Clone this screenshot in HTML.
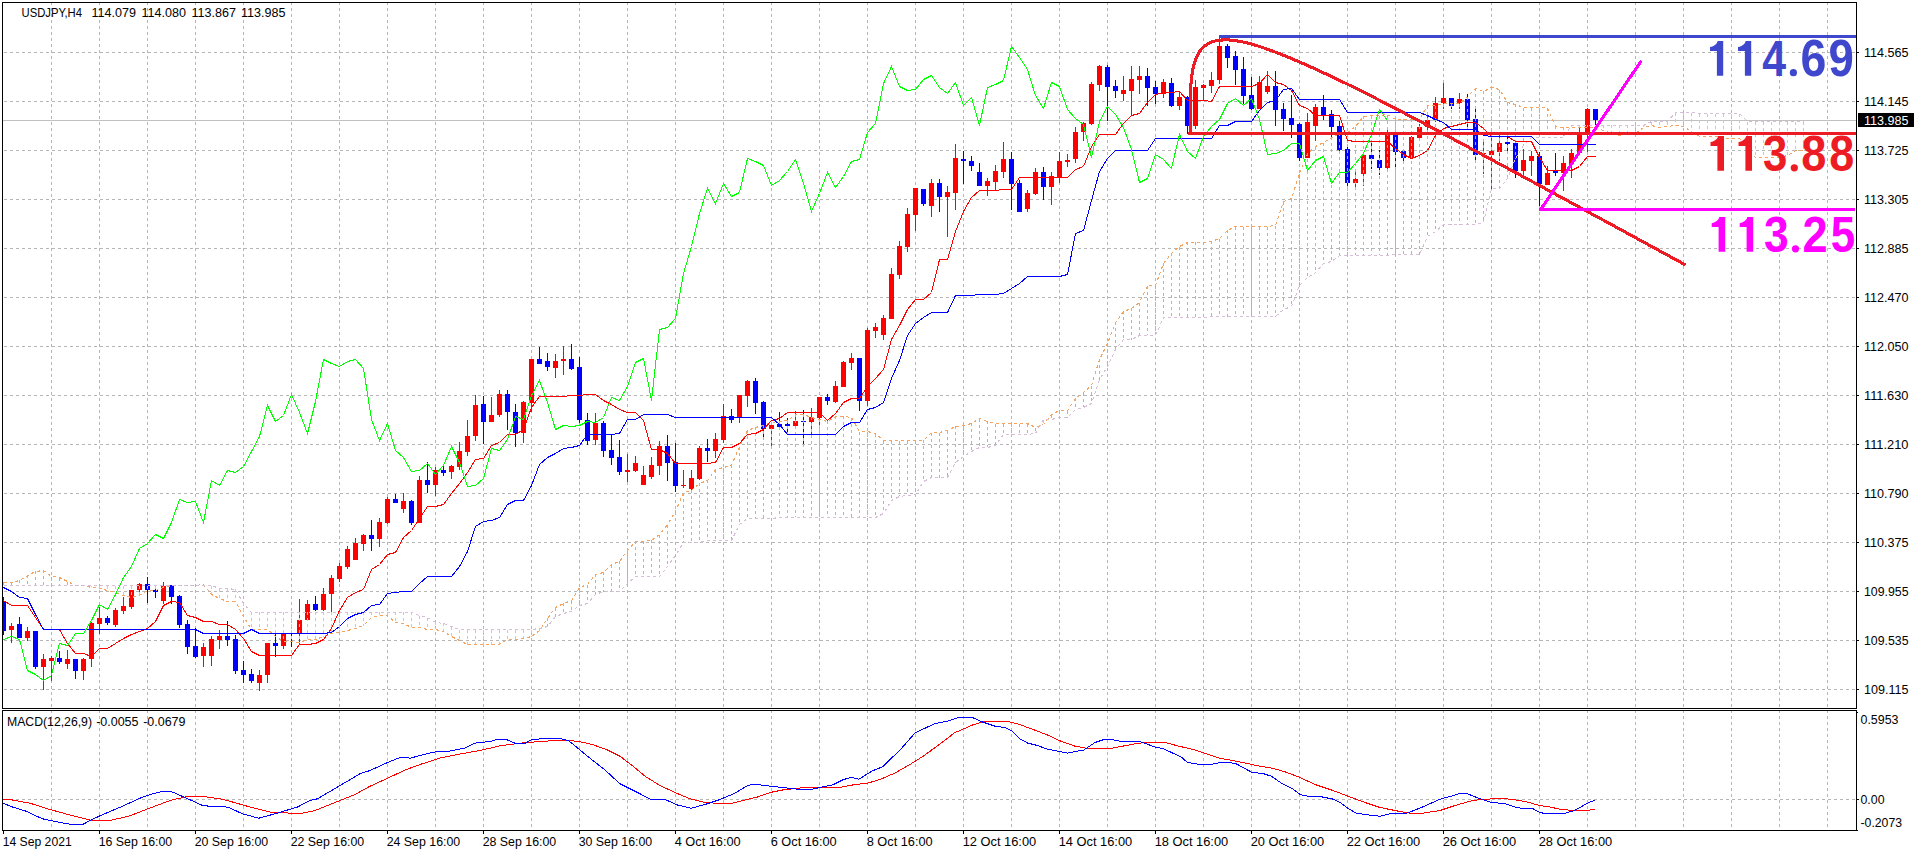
<!DOCTYPE html><html><head><meta charset="utf-8"><title>USDJPY,H4</title><style>html,body{margin:0;padding:0;background:#fff;overflow:hidden}body{width:1920px;height:854px;position:relative;font-family:"Liberation Sans",sans-serif}</style></head><body><svg width="1920" height="854" viewBox="0 0 1920 854" style="display:block;position:absolute;left:0;top:0" font-family="Liberation Sans, sans-serif">
<rect width="1920" height="854" fill="#fff"/>
<g stroke="#b6b6b6" stroke-width="1" stroke-dasharray="3 3" shape-rendering="crispEdges" fill="none">
<path d="M51.5 2V708"/>
<path d="M51.5 710V830"/>
<path d="M99.5 2V708"/>
<path d="M99.5 710V830"/>
<path d="M147.5 2V708"/>
<path d="M147.5 710V830"/>
<path d="M195.5 2V708"/>
<path d="M195.5 710V830"/>
<path d="M243.5 2V708"/>
<path d="M243.5 710V830"/>
<path d="M291.5 2V708"/>
<path d="M291.5 710V830"/>
<path d="M339.5 2V708"/>
<path d="M339.5 710V830"/>
<path d="M387.5 2V708"/>
<path d="M387.5 710V830"/>
<path d="M435.5 2V708"/>
<path d="M435.5 710V830"/>
<path d="M483.5 2V708"/>
<path d="M483.5 710V830"/>
<path d="M531.5 2V708"/>
<path d="M531.5 710V830"/>
<path d="M579.5 2V708"/>
<path d="M579.5 710V830"/>
<path d="M627.5 2V708"/>
<path d="M627.5 710V830"/>
<path d="M675.5 2V708"/>
<path d="M675.5 710V830"/>
<path d="M723.5 2V708"/>
<path d="M723.5 710V830"/>
<path d="M771.5 2V708"/>
<path d="M771.5 710V830"/>
<path d="M819.5 2V708"/>
<path d="M819.5 710V830"/>
<path d="M867.5 2V708"/>
<path d="M867.5 710V830"/>
<path d="M915.5 2V708"/>
<path d="M915.5 710V830"/>
<path d="M963.5 2V708"/>
<path d="M963.5 710V830"/>
<path d="M1011.5 2V708"/>
<path d="M1011.5 710V830"/>
<path d="M1059.5 2V708"/>
<path d="M1059.5 710V830"/>
<path d="M1107.5 2V708"/>
<path d="M1107.5 710V830"/>
<path d="M1155.5 2V708"/>
<path d="M1155.5 710V830"/>
<path d="M1203.5 2V708"/>
<path d="M1203.5 710V830"/>
<path d="M1251.5 2V708"/>
<path d="M1251.5 710V830"/>
<path d="M1299.5 2V708"/>
<path d="M1299.5 710V830"/>
<path d="M1347.5 2V708"/>
<path d="M1347.5 710V830"/>
<path d="M1395.5 2V708"/>
<path d="M1395.5 710V830"/>
<path d="M1443.5 2V708"/>
<path d="M1443.5 710V830"/>
<path d="M1491.5 2V708"/>
<path d="M1491.5 710V830"/>
<path d="M1539.5 2V708"/>
<path d="M1539.5 710V830"/>
<path d="M1587.5 2V708"/>
<path d="M1587.5 710V830"/>
<path d="M1635.5 2V708"/>
<path d="M1635.5 710V830"/>
<path d="M1683.5 2V708"/>
<path d="M1683.5 710V830"/>
<path d="M1731.5 2V708"/>
<path d="M1731.5 710V830"/>
<path d="M1779.5 2V708"/>
<path d="M1779.5 710V830"/>
<path d="M1827.5 2V708"/>
<path d="M1827.5 710V830"/>
<path d="M4 52.5H1856"/>
<path d="M4 101.5H1856"/>
<path d="M4 150.5H1856"/>
<path d="M4 199.5H1856"/>
<path d="M4 248.5H1856"/>
<path d="M4 297.5H1856"/>
<path d="M4 346.5H1856"/>
<path d="M4 395.5H1856"/>
<path d="M4 444.5H1856"/>
<path d="M4 493.5H1856"/>
<path d="M4 542.5H1856"/>
<path d="M4 591.5H1856"/>
<path d="M4 640.5H1856"/>
<path d="M4 689.5H1856"/>
<path d="M4 799.5H1856"/>
</g>
<path d="M3 120.5H1856" stroke="#c0c0c0" shape-rendering="crispEdges"/>
<defs><clipPath id="cm"><rect x="3" y="3" width="1853" height="705"/></clipPath><clipPath id="cs"><rect x="3" y="711" width="1853" height="119"/></clipPath></defs>
<g clip-path="url(#cm)">
<g shape-rendering="crispEdges">
<rect x="3" y="597" width="1" height="38" fill="#0000ff"/>
<rect x="1" y="601" width="5" height="30" fill="#0000ff"/>
<rect x="11" y="623" width="1" height="20" fill="#ff0000"/>
<rect x="9" y="626" width="5" height="4" fill="#ff0000"/>
<rect x="19" y="617" width="1" height="21" fill="#0000ff"/>
<rect x="17" y="624" width="5" height="14" fill="#0000ff"/>
<rect x="27" y="627" width="1" height="14" fill="#ff0000"/>
<rect x="25" y="631" width="5" height="7" fill="#ff0000"/>
<rect x="35" y="631" width="1" height="38" fill="#0000ff"/>
<rect x="33" y="631" width="5" height="36" fill="#0000ff"/>
<rect x="43" y="654" width="1" height="36" fill="#ff0000"/>
<rect x="41" y="659" width="5" height="8" fill="#ff0000"/>
<rect x="51" y="656" width="1" height="25" fill="#ff0000"/>
<rect x="49" y="658" width="5" height="3" fill="#ff0000"/>
<rect x="59" y="651" width="1" height="13" fill="#0000ff"/>
<rect x="57" y="658" width="5" height="4" fill="#0000ff"/>
<rect x="67" y="650" width="1" height="19" fill="#ff0000"/>
<rect x="65" y="659" width="5" height="5" fill="#ff0000"/>
<rect x="75" y="659" width="1" height="20" fill="#0000ff"/>
<rect x="73" y="659" width="5" height="12" fill="#0000ff"/>
<rect x="83" y="658" width="1" height="22" fill="#ff0000"/>
<rect x="81" y="659" width="5" height="12" fill="#ff0000"/>
<rect x="91" y="622" width="1" height="45" fill="#ff0000"/>
<rect x="89" y="623" width="5" height="36" fill="#ff0000"/>
<rect x="99" y="607" width="1" height="27" fill="#ff0000"/>
<rect x="97" y="618" width="5" height="6" fill="#ff0000"/>
<rect x="107" y="616" width="1" height="9" fill="#0000ff"/>
<rect x="105" y="618" width="5" height="5" fill="#0000ff"/>
<rect x="115" y="608" width="1" height="19" fill="#ff0000"/>
<rect x="113" y="610" width="5" height="15" fill="#ff0000"/>
<rect x="123" y="597" width="1" height="17" fill="#ff0000"/>
<rect x="121" y="606" width="5" height="5" fill="#ff0000"/>
<rect x="131" y="590" width="1" height="19" fill="#ff0000"/>
<rect x="129" y="590" width="5" height="17" fill="#ff0000"/>
<rect x="139" y="583" width="1" height="11" fill="#ff0000"/>
<rect x="137" y="584" width="5" height="6" fill="#ff0000"/>
<rect x="147" y="577" width="1" height="26" fill="#0000ff"/>
<rect x="145" y="584" width="5" height="6" fill="#0000ff"/>
<rect x="155" y="589" width="1" height="9" fill="#0000ff"/>
<rect x="153" y="590" width="5" height="2" fill="#0000ff"/>
<rect x="163" y="582" width="1" height="22" fill="#ff0000"/>
<rect x="161" y="586" width="5" height="15" fill="#ff0000"/>
<rect x="171" y="585" width="1" height="19" fill="#0000ff"/>
<rect x="169" y="585" width="5" height="12" fill="#0000ff"/>
<rect x="179" y="595" width="1" height="33" fill="#0000ff"/>
<rect x="177" y="596" width="5" height="29" fill="#0000ff"/>
<rect x="187" y="620" width="1" height="34" fill="#0000ff"/>
<rect x="185" y="624" width="5" height="23" fill="#0000ff"/>
<rect x="195" y="628" width="1" height="30" fill="#0000ff"/>
<rect x="193" y="646" width="5" height="11" fill="#0000ff"/>
<rect x="203" y="643" width="1" height="24" fill="#ff0000"/>
<rect x="201" y="647" width="5" height="9" fill="#ff0000"/>
<rect x="211" y="636" width="1" height="30" fill="#ff0000"/>
<rect x="209" y="639" width="5" height="17" fill="#ff0000"/>
<rect x="219" y="630" width="1" height="19" fill="#ff0000"/>
<rect x="217" y="636" width="5" height="4" fill="#ff0000"/>
<rect x="227" y="621" width="1" height="25" fill="#0000ff"/>
<rect x="225" y="636" width="5" height="4" fill="#0000ff"/>
<rect x="235" y="635" width="1" height="39" fill="#0000ff"/>
<rect x="233" y="639" width="5" height="32" fill="#0000ff"/>
<rect x="243" y="661" width="1" height="22" fill="#0000ff"/>
<rect x="241" y="670" width="5" height="5" fill="#0000ff"/>
<rect x="251" y="669" width="1" height="14" fill="#0000ff"/>
<rect x="249" y="674" width="5" height="7" fill="#0000ff"/>
<rect x="259" y="670" width="1" height="21" fill="#ff0000"/>
<rect x="257" y="675" width="5" height="8" fill="#ff0000"/>
<rect x="267" y="643" width="1" height="40" fill="#ff0000"/>
<rect x="265" y="643" width="5" height="32" fill="#ff0000"/>
<rect x="275" y="633" width="1" height="24" fill="#0000ff"/>
<rect x="273" y="643" width="5" height="3" fill="#0000ff"/>
<rect x="283" y="632" width="1" height="17" fill="#ff0000"/>
<rect x="281" y="633" width="5" height="13" fill="#ff0000"/>
<rect x="291" y="630" width="1" height="17" fill="#0000ff"/>
<rect x="289" y="633" width="5" height="1" fill="#0000ff"/>
<rect x="299" y="599" width="1" height="46" fill="#ff0000"/>
<rect x="297" y="620" width="5" height="14" fill="#ff0000"/>
<rect x="307" y="600" width="1" height="20" fill="#ff0000"/>
<rect x="305" y="604" width="5" height="16" fill="#ff0000"/>
<rect x="315" y="596" width="1" height="15" fill="#0000ff"/>
<rect x="313" y="604" width="5" height="6" fill="#0000ff"/>
<rect x="323" y="588" width="1" height="23" fill="#ff0000"/>
<rect x="321" y="594" width="5" height="16" fill="#ff0000"/>
<rect x="331" y="575" width="1" height="37" fill="#ff0000"/>
<rect x="329" y="578" width="5" height="16" fill="#ff0000"/>
<rect x="339" y="563" width="1" height="19" fill="#ff0000"/>
<rect x="337" y="566" width="5" height="13" fill="#ff0000"/>
<rect x="347" y="546" width="1" height="23" fill="#ff0000"/>
<rect x="345" y="549" width="5" height="18" fill="#ff0000"/>
<rect x="355" y="538" width="1" height="22" fill="#ff0000"/>
<rect x="353" y="543" width="5" height="17" fill="#ff0000"/>
<rect x="363" y="534" width="1" height="17" fill="#ff0000"/>
<rect x="361" y="535" width="5" height="9" fill="#ff0000"/>
<rect x="371" y="520" width="1" height="31" fill="#0000ff"/>
<rect x="369" y="535" width="5" height="4" fill="#0000ff"/>
<rect x="379" y="518" width="1" height="29" fill="#ff0000"/>
<rect x="377" y="522" width="5" height="17" fill="#ff0000"/>
<rect x="387" y="497" width="1" height="27" fill="#ff0000"/>
<rect x="385" y="499" width="5" height="24" fill="#ff0000"/>
<rect x="395" y="494" width="1" height="9" fill="#0000ff"/>
<rect x="393" y="499" width="5" height="4" fill="#0000ff"/>
<rect x="403" y="493" width="1" height="20" fill="#ff0000"/>
<rect x="401" y="501" width="5" height="8" fill="#ff0000"/>
<rect x="411" y="500" width="1" height="25" fill="#0000ff"/>
<rect x="409" y="501" width="5" height="22" fill="#0000ff"/>
<rect x="419" y="476" width="1" height="47" fill="#ff0000"/>
<rect x="417" y="480" width="5" height="43" fill="#ff0000"/>
<rect x="427" y="462" width="1" height="31" fill="#0000ff"/>
<rect x="425" y="480" width="5" height="5" fill="#0000ff"/>
<rect x="435" y="467" width="1" height="29" fill="#ff0000"/>
<rect x="433" y="470" width="5" height="15" fill="#ff0000"/>
<rect x="443" y="465" width="1" height="11" fill="#0000ff"/>
<rect x="441" y="470" width="5" height="3" fill="#0000ff"/>
<rect x="451" y="465" width="1" height="14" fill="#ff0000"/>
<rect x="449" y="466" width="5" height="6" fill="#ff0000"/>
<rect x="459" y="442" width="1" height="28" fill="#ff0000"/>
<rect x="457" y="451" width="5" height="16" fill="#ff0000"/>
<rect x="467" y="420" width="1" height="36" fill="#ff0000"/>
<rect x="465" y="436" width="5" height="16" fill="#ff0000"/>
<rect x="475" y="395" width="1" height="46" fill="#ff0000"/>
<rect x="473" y="405" width="5" height="31" fill="#ff0000"/>
<rect x="483" y="396" width="1" height="48" fill="#0000ff"/>
<rect x="481" y="404" width="5" height="18" fill="#0000ff"/>
<rect x="491" y="397" width="1" height="25" fill="#ff0000"/>
<rect x="489" y="415" width="5" height="7" fill="#ff0000"/>
<rect x="499" y="390" width="1" height="27" fill="#ff0000"/>
<rect x="497" y="394" width="5" height="21" fill="#ff0000"/>
<rect x="507" y="390" width="1" height="40" fill="#0000ff"/>
<rect x="505" y="394" width="5" height="18" fill="#0000ff"/>
<rect x="515" y="404" width="1" height="43" fill="#0000ff"/>
<rect x="513" y="412" width="5" height="21" fill="#0000ff"/>
<rect x="523" y="401" width="1" height="42" fill="#ff0000"/>
<rect x="521" y="402" width="5" height="31" fill="#ff0000"/>
<rect x="531" y="359" width="1" height="53" fill="#ff0000"/>
<rect x="529" y="359" width="5" height="44" fill="#ff0000"/>
<rect x="539" y="347" width="1" height="17" fill="#0000ff"/>
<rect x="537" y="359" width="5" height="5" fill="#0000ff"/>
<rect x="547" y="353" width="1" height="18" fill="#0000ff"/>
<rect x="545" y="361" width="5" height="6" fill="#0000ff"/>
<rect x="555" y="354" width="1" height="24" fill="#ff0000"/>
<rect x="553" y="361" width="5" height="7" fill="#ff0000"/>
<rect x="563" y="346" width="1" height="29" fill="#ff0000"/>
<rect x="561" y="359" width="5" height="2" fill="#ff0000"/>
<rect x="571" y="344" width="1" height="26" fill="#0000ff"/>
<rect x="569" y="359" width="5" height="10" fill="#0000ff"/>
<rect x="579" y="357" width="1" height="66" fill="#0000ff"/>
<rect x="577" y="367" width="5" height="53" fill="#0000ff"/>
<rect x="587" y="413" width="1" height="32" fill="#0000ff"/>
<rect x="585" y="420" width="5" height="21" fill="#0000ff"/>
<rect x="595" y="413" width="1" height="32" fill="#ff0000"/>
<rect x="593" y="423" width="5" height="17" fill="#ff0000"/>
<rect x="603" y="421" width="1" height="36" fill="#0000ff"/>
<rect x="601" y="423" width="5" height="28" fill="#0000ff"/>
<rect x="611" y="435" width="1" height="30" fill="#0000ff"/>
<rect x="609" y="450" width="5" height="8" fill="#0000ff"/>
<rect x="619" y="440" width="1" height="35" fill="#0000ff"/>
<rect x="617" y="457" width="5" height="15" fill="#0000ff"/>
<rect x="627" y="454" width="1" height="28" fill="#ff0000"/>
<rect x="625" y="470" width="5" height="2" fill="#ff0000"/>
<rect x="635" y="456" width="1" height="16" fill="#ff0000"/>
<rect x="633" y="463" width="5" height="8" fill="#ff0000"/>
<rect x="643" y="466" width="1" height="19" fill="#ff0000"/>
<rect x="641" y="475" width="5" height="10" fill="#ff0000"/>
<rect x="651" y="457" width="1" height="22" fill="#ff0000"/>
<rect x="649" y="465" width="5" height="12" fill="#ff0000"/>
<rect x="659" y="441" width="1" height="34" fill="#ff0000"/>
<rect x="657" y="446" width="5" height="20" fill="#ff0000"/>
<rect x="667" y="435" width="1" height="46" fill="#0000ff"/>
<rect x="665" y="446" width="5" height="17" fill="#0000ff"/>
<rect x="675" y="443" width="1" height="49" fill="#0000ff"/>
<rect x="673" y="462" width="5" height="24" fill="#0000ff"/>
<rect x="683" y="470" width="1" height="18" fill="#ff0000"/>
<rect x="681" y="485" width="5" height="1" fill="#ff0000"/>
<rect x="691" y="470" width="1" height="20" fill="#ff0000"/>
<rect x="689" y="478" width="5" height="11" fill="#ff0000"/>
<rect x="699" y="446" width="1" height="34" fill="#ff0000"/>
<rect x="697" y="448" width="5" height="31" fill="#ff0000"/>
<rect x="707" y="439" width="1" height="23" fill="#0000ff"/>
<rect x="705" y="448" width="5" height="3" fill="#0000ff"/>
<rect x="715" y="433" width="1" height="25" fill="#ff0000"/>
<rect x="713" y="439" width="5" height="12" fill="#ff0000"/>
<rect x="723" y="404" width="1" height="39" fill="#ff0000"/>
<rect x="721" y="416" width="5" height="24" fill="#ff0000"/>
<rect x="731" y="409" width="1" height="14" fill="#0000ff"/>
<rect x="729" y="416" width="5" height="4" fill="#0000ff"/>
<rect x="739" y="395" width="1" height="28" fill="#ff0000"/>
<rect x="737" y="395" width="5" height="23" fill="#ff0000"/>
<rect x="747" y="380" width="1" height="27" fill="#ff0000"/>
<rect x="745" y="381" width="5" height="15" fill="#ff0000"/>
<rect x="755" y="378" width="1" height="36" fill="#0000ff"/>
<rect x="753" y="381" width="5" height="22" fill="#0000ff"/>
<rect x="763" y="401" width="1" height="36" fill="#0000ff"/>
<rect x="761" y="402" width="5" height="27" fill="#0000ff"/>
<rect x="771" y="425" width="1" height="21" fill="#ff0000"/>
<rect x="769" y="425" width="5" height="4" fill="#ff0000"/>
<rect x="779" y="412" width="1" height="15" fill="#0000ff"/>
<rect x="777" y="424" width="5" height="3" fill="#0000ff"/>
<rect x="787" y="418" width="1" height="14" fill="#0000ff"/>
<rect x="785" y="424" width="5" height="2" fill="#0000ff"/>
<rect x="795" y="411" width="1" height="15" fill="#ff0000"/>
<rect x="793" y="421" width="5" height="5" fill="#ff0000"/>
<rect x="803" y="410" width="1" height="35" fill="#0000ff"/>
<rect x="801" y="421" width="5" height="1" fill="#0000ff"/>
<rect x="811" y="408" width="1" height="26" fill="#ff0000"/>
<rect x="809" y="417" width="5" height="5" fill="#ff0000"/>
<rect x="819" y="397" width="1" height="28" fill="#ff0000"/>
<rect x="817" y="397" width="5" height="21" fill="#ff0000"/>
<rect x="827" y="394" width="1" height="11" fill="#0000ff"/>
<rect x="825" y="397" width="5" height="4" fill="#0000ff"/>
<rect x="835" y="381" width="1" height="22" fill="#ff0000"/>
<rect x="833" y="386" width="5" height="16" fill="#ff0000"/>
<rect x="843" y="361" width="1" height="26" fill="#ff0000"/>
<rect x="841" y="362" width="5" height="25" fill="#ff0000"/>
<rect x="851" y="353" width="1" height="17" fill="#ff0000"/>
<rect x="849" y="358" width="5" height="5" fill="#ff0000"/>
<rect x="859" y="358" width="1" height="53" fill="#0000ff"/>
<rect x="857" y="358" width="5" height="43" fill="#0000ff"/>
<rect x="867" y="328" width="1" height="78" fill="#ff0000"/>
<rect x="865" y="330" width="5" height="71" fill="#ff0000"/>
<rect x="875" y="323" width="1" height="15" fill="#ff0000"/>
<rect x="873" y="327" width="5" height="4" fill="#ff0000"/>
<rect x="883" y="315" width="1" height="25" fill="#ff0000"/>
<rect x="881" y="318" width="5" height="17" fill="#ff0000"/>
<rect x="891" y="268" width="1" height="51" fill="#ff0000"/>
<rect x="889" y="274" width="5" height="45" fill="#ff0000"/>
<rect x="899" y="241" width="1" height="38" fill="#ff0000"/>
<rect x="897" y="246" width="5" height="29" fill="#ff0000"/>
<rect x="907" y="208" width="1" height="44" fill="#ff0000"/>
<rect x="905" y="214" width="5" height="33" fill="#ff0000"/>
<rect x="915" y="188" width="1" height="43" fill="#ff0000"/>
<rect x="913" y="188" width="5" height="27" fill="#ff0000"/>
<rect x="923" y="189" width="1" height="17" fill="#0000ff"/>
<rect x="921" y="189" width="5" height="15" fill="#0000ff"/>
<rect x="931" y="179" width="1" height="38" fill="#ff0000"/>
<rect x="929" y="183" width="5" height="23" fill="#ff0000"/>
<rect x="939" y="179" width="1" height="33" fill="#0000ff"/>
<rect x="937" y="183" width="5" height="14" fill="#0000ff"/>
<rect x="947" y="186" width="1" height="51" fill="#ff0000"/>
<rect x="945" y="192" width="5" height="5" fill="#ff0000"/>
<rect x="955" y="144" width="1" height="66" fill="#ff0000"/>
<rect x="953" y="158" width="5" height="35" fill="#ff0000"/>
<rect x="963" y="151" width="1" height="33" fill="#0000ff"/>
<rect x="961" y="159" width="5" height="2" fill="#0000ff"/>
<rect x="971" y="156" width="1" height="15" fill="#0000ff"/>
<rect x="969" y="161" width="5" height="5" fill="#0000ff"/>
<rect x="979" y="163" width="1" height="23" fill="#0000ff"/>
<rect x="977" y="172" width="5" height="14" fill="#0000ff"/>
<rect x="987" y="178" width="1" height="18" fill="#ff0000"/>
<rect x="985" y="181" width="5" height="5" fill="#ff0000"/>
<rect x="995" y="165" width="1" height="25" fill="#ff0000"/>
<rect x="993" y="171" width="5" height="11" fill="#ff0000"/>
<rect x="1003" y="142" width="1" height="36" fill="#ff0000"/>
<rect x="1001" y="159" width="5" height="13" fill="#ff0000"/>
<rect x="1011" y="152" width="1" height="58" fill="#0000ff"/>
<rect x="1009" y="159" width="5" height="25" fill="#0000ff"/>
<rect x="1019" y="180" width="1" height="32" fill="#0000ff"/>
<rect x="1017" y="183" width="5" height="29" fill="#0000ff"/>
<rect x="1027" y="190" width="1" height="22" fill="#ff0000"/>
<rect x="1025" y="193" width="5" height="16" fill="#ff0000"/>
<rect x="1035" y="168" width="1" height="27" fill="#ff0000"/>
<rect x="1033" y="172" width="5" height="22" fill="#ff0000"/>
<rect x="1043" y="167" width="1" height="33" fill="#0000ff"/>
<rect x="1041" y="172" width="5" height="15" fill="#0000ff"/>
<rect x="1051" y="172" width="1" height="33" fill="#ff0000"/>
<rect x="1049" y="176" width="5" height="11" fill="#ff0000"/>
<rect x="1059" y="152" width="1" height="31" fill="#ff0000"/>
<rect x="1057" y="161" width="5" height="16" fill="#ff0000"/>
<rect x="1067" y="154" width="1" height="13" fill="#ff0000"/>
<rect x="1065" y="160" width="5" height="2" fill="#ff0000"/>
<rect x="1075" y="127" width="1" height="36" fill="#ff0000"/>
<rect x="1073" y="132" width="5" height="27" fill="#ff0000"/>
<rect x="1083" y="122" width="1" height="19" fill="#ff0000"/>
<rect x="1081" y="123" width="5" height="9" fill="#ff0000"/>
<rect x="1091" y="82" width="1" height="43" fill="#ff0000"/>
<rect x="1089" y="84" width="5" height="40" fill="#ff0000"/>
<rect x="1099" y="65" width="1" height="26" fill="#ff0000"/>
<rect x="1097" y="66" width="5" height="19" fill="#ff0000"/>
<rect x="1107" y="65" width="1" height="56" fill="#0000ff"/>
<rect x="1105" y="67" width="5" height="20" fill="#0000ff"/>
<rect x="1115" y="80" width="1" height="18" fill="#0000ff"/>
<rect x="1113" y="86" width="5" height="5" fill="#0000ff"/>
<rect x="1123" y="76" width="1" height="25" fill="#ff0000"/>
<rect x="1121" y="90" width="5" height="4" fill="#ff0000"/>
<rect x="1131" y="66" width="1" height="50" fill="#ff0000"/>
<rect x="1129" y="79" width="5" height="12" fill="#ff0000"/>
<rect x="1139" y="66" width="1" height="28" fill="#ff0000"/>
<rect x="1137" y="76" width="5" height="4" fill="#ff0000"/>
<rect x="1147" y="68" width="1" height="38" fill="#0000ff"/>
<rect x="1145" y="76" width="5" height="12" fill="#0000ff"/>
<rect x="1155" y="81" width="1" height="23" fill="#0000ff"/>
<rect x="1153" y="87" width="5" height="7" fill="#0000ff"/>
<rect x="1163" y="79" width="1" height="19" fill="#ff0000"/>
<rect x="1161" y="82" width="5" height="12" fill="#ff0000"/>
<rect x="1171" y="78" width="1" height="29" fill="#0000ff"/>
<rect x="1169" y="83" width="5" height="23" fill="#0000ff"/>
<rect x="1179" y="91" width="1" height="19" fill="#ff0000"/>
<rect x="1177" y="97" width="5" height="9" fill="#ff0000"/>
<rect x="1187" y="96" width="1" height="38" fill="#0000ff"/>
<rect x="1185" y="97" width="5" height="29" fill="#0000ff"/>
<rect x="1195" y="80" width="1" height="49" fill="#ff0000"/>
<rect x="1193" y="87" width="5" height="39" fill="#ff0000"/>
<rect x="1203" y="84" width="1" height="17" fill="#ff0000"/>
<rect x="1201" y="85" width="5" height="3" fill="#ff0000"/>
<rect x="1211" y="72" width="1" height="21" fill="#ff0000"/>
<rect x="1209" y="80" width="5" height="6" fill="#ff0000"/>
<rect x="1219" y="38" width="1" height="46" fill="#ff0000"/>
<rect x="1217" y="46" width="5" height="34" fill="#ff0000"/>
<rect x="1227" y="44" width="1" height="24" fill="#0000ff"/>
<rect x="1225" y="46" width="5" height="12" fill="#0000ff"/>
<rect x="1235" y="51" width="1" height="34" fill="#0000ff"/>
<rect x="1233" y="56" width="5" height="14" fill="#0000ff"/>
<rect x="1243" y="57" width="1" height="47" fill="#0000ff"/>
<rect x="1241" y="69" width="5" height="27" fill="#0000ff"/>
<rect x="1251" y="77" width="1" height="33" fill="#0000ff"/>
<rect x="1249" y="95" width="5" height="14" fill="#0000ff"/>
<rect x="1259" y="76" width="1" height="33" fill="#ff0000"/>
<rect x="1257" y="82" width="5" height="27" fill="#ff0000"/>
<rect x="1267" y="71" width="1" height="23" fill="#ff0000"/>
<rect x="1265" y="86" width="5" height="6" fill="#ff0000"/>
<rect x="1275" y="71" width="1" height="55" fill="#0000ff"/>
<rect x="1273" y="86" width="5" height="24" fill="#0000ff"/>
<rect x="1283" y="103" width="1" height="28" fill="#0000ff"/>
<rect x="1281" y="109" width="5" height="10" fill="#0000ff"/>
<rect x="1291" y="95" width="1" height="43" fill="#0000ff"/>
<rect x="1289" y="118" width="5" height="7" fill="#0000ff"/>
<rect x="1299" y="123" width="1" height="38" fill="#0000ff"/>
<rect x="1297" y="124" width="5" height="34" fill="#0000ff"/>
<rect x="1307" y="113" width="1" height="45" fill="#ff0000"/>
<rect x="1305" y="122" width="5" height="36" fill="#ff0000"/>
<rect x="1315" y="104" width="1" height="37" fill="#ff0000"/>
<rect x="1313" y="107" width="5" height="19" fill="#ff0000"/>
<rect x="1323" y="95" width="1" height="25" fill="#0000ff"/>
<rect x="1321" y="107" width="5" height="8" fill="#0000ff"/>
<rect x="1331" y="110" width="1" height="28" fill="#0000ff"/>
<rect x="1329" y="114" width="5" height="13" fill="#0000ff"/>
<rect x="1339" y="121" width="1" height="30" fill="#0000ff"/>
<rect x="1337" y="126" width="5" height="24" fill="#0000ff"/>
<rect x="1347" y="147" width="1" height="39" fill="#0000ff"/>
<rect x="1345" y="149" width="5" height="34" fill="#0000ff"/>
<rect x="1355" y="169" width="1" height="18" fill="#ff0000"/>
<rect x="1353" y="179" width="5" height="4" fill="#ff0000"/>
<rect x="1363" y="155" width="1" height="31" fill="#ff0000"/>
<rect x="1361" y="155" width="5" height="19" fill="#ff0000"/>
<rect x="1371" y="142" width="1" height="27" fill="#0000ff"/>
<rect x="1369" y="155" width="5" height="4" fill="#0000ff"/>
<rect x="1379" y="150" width="1" height="25" fill="#0000ff"/>
<rect x="1377" y="160" width="5" height="8" fill="#0000ff"/>
<rect x="1387" y="129" width="1" height="42" fill="#ff0000"/>
<rect x="1385" y="135" width="5" height="33" fill="#ff0000"/>
<rect x="1395" y="135" width="1" height="32" fill="#0000ff"/>
<rect x="1393" y="135" width="5" height="17" fill="#0000ff"/>
<rect x="1403" y="149" width="1" height="12" fill="#0000ff"/>
<rect x="1401" y="151" width="5" height="7" fill="#0000ff"/>
<rect x="1411" y="136" width="1" height="23" fill="#ff0000"/>
<rect x="1409" y="137" width="5" height="21" fill="#ff0000"/>
<rect x="1419" y="124" width="1" height="17" fill="#ff0000"/>
<rect x="1417" y="127" width="5" height="11" fill="#ff0000"/>
<rect x="1427" y="116" width="1" height="15" fill="#ff0000"/>
<rect x="1425" y="120" width="5" height="7" fill="#ff0000"/>
<rect x="1435" y="97" width="1" height="25" fill="#ff0000"/>
<rect x="1433" y="103" width="5" height="17" fill="#ff0000"/>
<rect x="1443" y="83" width="1" height="26" fill="#ff0000"/>
<rect x="1441" y="98" width="5" height="5" fill="#ff0000"/>
<rect x="1451" y="98" width="1" height="11" fill="#0000ff"/>
<rect x="1449" y="98" width="5" height="8" fill="#0000ff"/>
<rect x="1459" y="93" width="1" height="16" fill="#ff0000"/>
<rect x="1457" y="99" width="5" height="4" fill="#ff0000"/>
<rect x="1467" y="94" width="1" height="34" fill="#0000ff"/>
<rect x="1465" y="99" width="5" height="21" fill="#0000ff"/>
<rect x="1475" y="109" width="1" height="54" fill="#0000ff"/>
<rect x="1473" y="119" width="5" height="36" fill="#0000ff"/>
<rect x="1483" y="139" width="1" height="35" fill="#ff0000"/>
<rect x="1481" y="153" width="5" height="1" fill="#ff0000"/>
<rect x="1491" y="135" width="1" height="54" fill="#ff0000"/>
<rect x="1489" y="151" width="5" height="4" fill="#ff0000"/>
<rect x="1499" y="135" width="1" height="26" fill="#ff0000"/>
<rect x="1497" y="143" width="5" height="9" fill="#ff0000"/>
<rect x="1507" y="135" width="1" height="16" fill="#0000ff"/>
<rect x="1505" y="142" width="5" height="2" fill="#0000ff"/>
<rect x="1515" y="142" width="1" height="36" fill="#0000ff"/>
<rect x="1513" y="143" width="5" height="28" fill="#0000ff"/>
<rect x="1523" y="149" width="1" height="26" fill="#ff0000"/>
<rect x="1521" y="160" width="5" height="11" fill="#ff0000"/>
<rect x="1531" y="151" width="1" height="25" fill="#ff0000"/>
<rect x="1529" y="156" width="5" height="5" fill="#ff0000"/>
<rect x="1539" y="152" width="1" height="54" fill="#0000ff"/>
<rect x="1537" y="156" width="5" height="28" fill="#0000ff"/>
<rect x="1547" y="166" width="1" height="19" fill="#ff0000"/>
<rect x="1545" y="173" width="5" height="12" fill="#ff0000"/>
<rect x="1555" y="153" width="1" height="23" fill="#0000ff"/>
<rect x="1553" y="171" width="5" height="2" fill="#0000ff"/>
<rect x="1563" y="156" width="1" height="35" fill="#ff0000"/>
<rect x="1561" y="163" width="5" height="10" fill="#ff0000"/>
<rect x="1571" y="149" width="1" height="29" fill="#ff0000"/>
<rect x="1569" y="153" width="5" height="11" fill="#ff0000"/>
<rect x="1579" y="128" width="1" height="25" fill="#ff0000"/>
<rect x="1577" y="134" width="5" height="19" fill="#ff0000"/>
<rect x="1587" y="108" width="1" height="44" fill="#ff0000"/>
<rect x="1585" y="109" width="5" height="25" fill="#ff0000"/>
<rect x="1595" y="109" width="1" height="16" fill="#0000ff"/>
<rect x="1593" y="109" width="5" height="11" fill="#0000ff"/>
</g>
<g shape-rendering="crispEdges" fill="none" stroke-width="1">
<path d="M3.5 582V586" stroke="#f4a460" stroke-dasharray="3 3"/>
<path d="M11.5 582V586" stroke="#f4a460" stroke-dasharray="3 3"/>
<path d="M19.5 580V586" stroke="#f4a460" stroke-dasharray="3 3"/>
<path d="M27.5 575V586" stroke="#f4a460" stroke-dasharray="3 3"/>
<path d="M35.5 571V586" stroke="#f4a460" stroke-dasharray="3 3"/>
<path d="M43.5 570V586" stroke="#f4a460" stroke-dasharray="3 3"/>
<path d="M51.5 577V586" stroke="#f4a460" stroke-dasharray="3 3"/>
<path d="M59.5 578V586" stroke="#f4a460" stroke-dasharray="3 3"/>
<path d="M67.5 582V586" stroke="#f4a460" stroke-dasharray="3 3"/>
<path d="M91.5 586V587" stroke="#d8bfd8" stroke-dasharray="3 3"/>
<path d="M99.5 586V589" stroke="#d8bfd8" stroke-dasharray="3 3"/>
<path d="M107.5 586V591" stroke="#d8bfd8" stroke-dasharray="3 3"/>
<path d="M115.5 586V592" stroke="#d8bfd8" stroke-dasharray="3 3"/>
<path d="M123.5 586V596" stroke="#d8bfd8" stroke-dasharray="3 3"/>
<path d="M131.5 586V597" stroke="#d8bfd8" stroke-dasharray="3 3"/>
<path d="M139.5 586V596" stroke="#d8bfd8" stroke-dasharray="3 3"/>
<path d="M147.5 586V590" stroke="#d8bfd8" stroke-dasharray="3 3"/>
<path d="M155.5 586V590" stroke="#d8bfd8" stroke-dasharray="3 3"/>
<path d="M163.5 586V587" stroke="#d8bfd8" stroke-dasharray="3 3"/>
<path d="M211.5 586V594" stroke="#d8bfd8" stroke-dasharray="3 3"/>
<path d="M219.5 589V598" stroke="#d8bfd8" stroke-dasharray="3 3"/>
<path d="M227.5 589V601" stroke="#d8bfd8" stroke-dasharray="3 3"/>
<path d="M235.5 589V602" stroke="#d8bfd8" stroke-dasharray="3 3"/>
<path d="M243.5 603V616" stroke="#d8bfd8" stroke-dasharray="3 3"/>
<path d="M251.5 612V630" stroke="#d8bfd8" stroke-dasharray="3 3"/>
<path d="M259.5 612V630" stroke="#d8bfd8" stroke-dasharray="3 3"/>
<path d="M267.5 612V630" stroke="#d8bfd8" stroke-dasharray="3 3"/>
<path d="M275.5 612V637" stroke="#d8bfd8" stroke-dasharray="3 3"/>
<path d="M283.5 612V642" stroke="#d8bfd8" stroke-dasharray="3 3"/>
<path d="M291.5 612V642" stroke="#d8bfd8" stroke-dasharray="3 3"/>
<path d="M299.5 612V643" stroke="#d8bfd8" stroke-dasharray="3 3"/>
<path d="M307.5 612V639" stroke="#d8bfd8" stroke-dasharray="3 3"/>
<path d="M315.5 612V639" stroke="#d8bfd8" stroke-dasharray="3 3"/>
<path d="M323.5 612V637" stroke="#d8bfd8" stroke-dasharray="3 3"/>
<path d="M331.5 612V634" stroke="#d8bfd8" stroke-dasharray="3 3"/>
<path d="M339.5 612V632" stroke="#d8bfd8" stroke-dasharray="3 3"/>
<path d="M347.5 612V631" stroke="#d8bfd8" stroke-dasharray="3 3"/>
<path d="M355.5 612V629" stroke="#d8bfd8" stroke-dasharray="3 3"/>
<path d="M363.5 612V626" stroke="#d8bfd8" stroke-dasharray="3 3"/>
<path d="M371.5 612V618" stroke="#d8bfd8" stroke-dasharray="3 3"/>
<path d="M379.5 612V616" stroke="#d8bfd8" stroke-dasharray="3 3"/>
<path d="M387.5 612V616" stroke="#d8bfd8" stroke-dasharray="3 3"/>
<path d="M395.5 612V622" stroke="#d8bfd8" stroke-dasharray="3 3"/>
<path d="M403.5 612V624" stroke="#d8bfd8" stroke-dasharray="3 3"/>
<path d="M411.5 612V628" stroke="#d8bfd8" stroke-dasharray="3 3"/>
<path d="M419.5 616V628" stroke="#d8bfd8" stroke-dasharray="3 3"/>
<path d="M427.5 618V629" stroke="#d8bfd8" stroke-dasharray="3 3"/>
<path d="M435.5 622V629" stroke="#d8bfd8" stroke-dasharray="3 3"/>
<path d="M443.5 623V632" stroke="#d8bfd8" stroke-dasharray="3 3"/>
<path d="M451.5 627V636" stroke="#d8bfd8" stroke-dasharray="3 3"/>
<path d="M459.5 630V641" stroke="#d8bfd8" stroke-dasharray="3 3"/>
<path d="M467.5 630V645" stroke="#d8bfd8" stroke-dasharray="3 3"/>
<path d="M475.5 630V645" stroke="#d8bfd8" stroke-dasharray="3 3"/>
<path d="M483.5 630V645" stroke="#d8bfd8" stroke-dasharray="3 3"/>
<path d="M491.5 630V645" stroke="#d8bfd8" stroke-dasharray="3 3"/>
<path d="M499.5 630V645" stroke="#d8bfd8" stroke-dasharray="3 3"/>
<path d="M507.5 630V639" stroke="#d8bfd8" stroke-dasharray="3 3"/>
<path d="M515.5 630V639" stroke="#d8bfd8" stroke-dasharray="3 3"/>
<path d="M523.5 630V639" stroke="#d8bfd8" stroke-dasharray="3 3"/>
<path d="M531.5 630V637" stroke="#d8bfd8" stroke-dasharray="3 3"/>
<path d="M539.5 628V631" stroke="#d8bfd8" stroke-dasharray="3 3"/>
<path d="M547.5 618V627" stroke="#f4a460" stroke-dasharray="3 3"/>
<path d="M555.5 608V617" stroke="#f4a460" stroke-dasharray="3 3"/>
<path d="M563.5 603V614" stroke="#f4a460" stroke-dasharray="3 3"/>
<path d="M571.5 601V612" stroke="#f4a460" stroke-dasharray="3 3"/>
<path d="M579.5 588V605" stroke="#f4a460" stroke-dasharray="3 3"/>
<path d="M587.5 585V603" stroke="#f4a460" stroke-dasharray="3 3"/>
<path d="M595.5 574V594" stroke="#f4a460" stroke-dasharray="3 3"/>
<path d="M603.5 572V592" stroke="#f4a460" stroke-dasharray="3 3"/>
<path d="M611.5 565V592" stroke="#f4a460" stroke-dasharray="3 3"/>
<path d="M619.5 561V592" stroke="#f4a460" stroke-dasharray="3 3"/>
<path d="M627.5 551V583" stroke="#f4a460" stroke-dasharray="3 3"/>
<path d="M635.5 541V576" stroke="#f4a460" stroke-dasharray="3 3"/>
<path d="M643.5 541V576" stroke="#f4a460" stroke-dasharray="3 3"/>
<path d="M651.5 540V576" stroke="#f4a460" stroke-dasharray="3 3"/>
<path d="M659.5 535V576" stroke="#f4a460" stroke-dasharray="3 3"/>
<path d="M667.5 525V567" stroke="#f4a460" stroke-dasharray="3 3"/>
<path d="M675.5 512V555" stroke="#f4a460" stroke-dasharray="3 3"/>
<path d="M683.5 493V543" stroke="#f4a460" stroke-dasharray="3 3"/>
<path d="M691.5 490V543" stroke="#f4a460" stroke-dasharray="3 3"/>
<path d="M699.5 483V543" stroke="#f4a460" stroke-dasharray="3 3"/>
<path d="M707.5 480V540" stroke="#f4a460" stroke-dasharray="3 3"/>
<path d="M715.5 470V540" stroke="#f4a460" stroke-dasharray="3 3"/>
<path d="M723.5 468V540" stroke="#f4a460" stroke-dasharray="3 3"/>
<path d="M731.5 465V540" stroke="#f4a460" stroke-dasharray="3 3"/>
<path d="M739.5 447V525" stroke="#f4a460" stroke-dasharray="3 3"/>
<path d="M747.5 430V519" stroke="#f4a460" stroke-dasharray="3 3"/>
<path d="M755.5 427V519" stroke="#f4a460" stroke-dasharray="3 3"/>
<path d="M763.5 425V519" stroke="#f4a460" stroke-dasharray="3 3"/>
<path d="M771.5 422V519" stroke="#f4a460" stroke-dasharray="3 3"/>
<path d="M779.5 421V517" stroke="#f4a460" stroke-dasharray="3 3"/>
<path d="M787.5 420V517" stroke="#f4a460" stroke-dasharray="3 3"/>
<path d="M795.5 414V517" stroke="#f4a460" stroke-dasharray="3 3"/>
<path d="M803.5 414V517" stroke="#f4a460" stroke-dasharray="3 3"/>
<path d="M811.5 417V517" stroke="#f4a460" stroke-dasharray="3 3"/>
<path d="M819.5 419V517" stroke="#f4a460" stroke-dasharray="3 3"/>
<path d="M827.5 421V517" stroke="#f4a460" stroke-dasharray="3 3"/>
<path d="M835.5 416V517" stroke="#f4a460" stroke-dasharray="3 3"/>
<path d="M843.5 416V517" stroke="#f4a460" stroke-dasharray="3 3"/>
<path d="M851.5 418V517" stroke="#f4a460" stroke-dasharray="3 3"/>
<path d="M859.5 432V517" stroke="#f4a460" stroke-dasharray="3 3"/>
<path d="M867.5 432V517" stroke="#f4a460" stroke-dasharray="3 3"/>
<path d="M875.5 434V517" stroke="#f4a460" stroke-dasharray="3 3"/>
<path d="M883.5 441V513" stroke="#f4a460" stroke-dasharray="3 3"/>
<path d="M891.5 441V500" stroke="#f4a460" stroke-dasharray="3 3"/>
<path d="M899.5 441V496" stroke="#f4a460" stroke-dasharray="3 3"/>
<path d="M907.5 441V495" stroke="#f4a460" stroke-dasharray="3 3"/>
<path d="M915.5 441V494" stroke="#f4a460" stroke-dasharray="3 3"/>
<path d="M923.5 440V482" stroke="#f4a460" stroke-dasharray="3 3"/>
<path d="M931.5 433V478" stroke="#f4a460" stroke-dasharray="3 3"/>
<path d="M939.5 433V478" stroke="#f4a460" stroke-dasharray="3 3"/>
<path d="M947.5 431V478" stroke="#f4a460" stroke-dasharray="3 3"/>
<path d="M955.5 426V463" stroke="#f4a460" stroke-dasharray="3 3"/>
<path d="M963.5 426V456" stroke="#f4a460" stroke-dasharray="3 3"/>
<path d="M971.5 423V452" stroke="#f4a460" stroke-dasharray="3 3"/>
<path d="M979.5 419V447" stroke="#f4a460" stroke-dasharray="3 3"/>
<path d="M987.5 421V447" stroke="#f4a460" stroke-dasharray="3 3"/>
<path d="M995.5 424V445" stroke="#f4a460" stroke-dasharray="3 3"/>
<path d="M1003.5 424V434" stroke="#f4a460" stroke-dasharray="3 3"/>
<path d="M1011.5 424V434" stroke="#f4a460" stroke-dasharray="3 3"/>
<path d="M1019.5 424V434" stroke="#f4a460" stroke-dasharray="3 3"/>
<path d="M1027.5 424V434" stroke="#f4a460" stroke-dasharray="3 3"/>
<path d="M1035.5 428V433" stroke="#f4a460" stroke-dasharray="3 3"/>
<path d="M1043.5 420V424" stroke="#d8bfd8" stroke-dasharray="3 3"/>
<path d="M1051.5 415V420" stroke="#f4a460" stroke-dasharray="3 3"/>
<path d="M1059.5 411V418" stroke="#f4a460" stroke-dasharray="3 3"/>
<path d="M1067.5 411V418" stroke="#f4a460" stroke-dasharray="3 3"/>
<path d="M1075.5 398V410" stroke="#f4a460" stroke-dasharray="3 3"/>
<path d="M1083.5 393V407" stroke="#f4a460" stroke-dasharray="3 3"/>
<path d="M1091.5 386V403" stroke="#f4a460" stroke-dasharray="3 3"/>
<path d="M1099.5 359V380" stroke="#f4a460" stroke-dasharray="3 3"/>
<path d="M1107.5 343V366" stroke="#f4a460" stroke-dasharray="3 3"/>
<path d="M1115.5 322V350" stroke="#f4a460" stroke-dasharray="3 3"/>
<path d="M1123.5 311V340" stroke="#f4a460" stroke-dasharray="3 3"/>
<path d="M1131.5 308V340" stroke="#f4a460" stroke-dasharray="3 3"/>
<path d="M1139.5 303V335" stroke="#f4a460" stroke-dasharray="3 3"/>
<path d="M1147.5 286V335" stroke="#f4a460" stroke-dasharray="3 3"/>
<path d="M1155.5 286V335" stroke="#f4a460" stroke-dasharray="3 3"/>
<path d="M1163.5 263V318" stroke="#f4a460" stroke-dasharray="3 3"/>
<path d="M1171.5 253V318" stroke="#f4a460" stroke-dasharray="3 3"/>
<path d="M1179.5 247V318" stroke="#f4a460" stroke-dasharray="3 3"/>
<path d="M1187.5 242V318" stroke="#f4a460" stroke-dasharray="3 3"/>
<path d="M1195.5 242V318" stroke="#f4a460" stroke-dasharray="3 3"/>
<path d="M1203.5 242V318" stroke="#f4a460" stroke-dasharray="3 3"/>
<path d="M1211.5 241V317" stroke="#f4a460" stroke-dasharray="3 3"/>
<path d="M1219.5 239V317" stroke="#f4a460" stroke-dasharray="3 3"/>
<path d="M1227.5 230V317" stroke="#f4a460" stroke-dasharray="3 3"/>
<path d="M1235.5 227V317" stroke="#f4a460" stroke-dasharray="3 3"/>
<path d="M1243.5 227V317" stroke="#f4a460" stroke-dasharray="3 3"/>
<path d="M1251.5 227V317" stroke="#f4a460" stroke-dasharray="3 3"/>
<path d="M1259.5 227V317" stroke="#f4a460" stroke-dasharray="3 3"/>
<path d="M1267.5 227V317" stroke="#f4a460" stroke-dasharray="3 3"/>
<path d="M1275.5 226V317" stroke="#f4a460" stroke-dasharray="3 3"/>
<path d="M1283.5 202V310" stroke="#f4a460" stroke-dasharray="3 3"/>
<path d="M1291.5 199V307" stroke="#f4a460" stroke-dasharray="3 3"/>
<path d="M1299.5 174V286" stroke="#f4a460" stroke-dasharray="3 3"/>
<path d="M1307.5 153V277" stroke="#f4a460" stroke-dasharray="3 3"/>
<path d="M1315.5 147V272" stroke="#f4a460" stroke-dasharray="3 3"/>
<path d="M1323.5 143V263" stroke="#f4a460" stroke-dasharray="3 3"/>
<path d="M1331.5 137V261" stroke="#f4a460" stroke-dasharray="3 3"/>
<path d="M1339.5 133V255" stroke="#f4a460" stroke-dasharray="3 3"/>
<path d="M1347.5 132V255" stroke="#f4a460" stroke-dasharray="3 3"/>
<path d="M1355.5 127V255" stroke="#f4a460" stroke-dasharray="3 3"/>
<path d="M1363.5 116V255" stroke="#f4a460" stroke-dasharray="3 3"/>
<path d="M1371.5 116V255" stroke="#f4a460" stroke-dasharray="3 3"/>
<path d="M1379.5 116V255" stroke="#f4a460" stroke-dasharray="3 3"/>
<path d="M1387.5 115V255" stroke="#f4a460" stroke-dasharray="3 3"/>
<path d="M1395.5 119V255" stroke="#f4a460" stroke-dasharray="3 3"/>
<path d="M1403.5 119V255" stroke="#f4a460" stroke-dasharray="3 3"/>
<path d="M1411.5 119V255" stroke="#f4a460" stroke-dasharray="3 3"/>
<path d="M1419.5 120V255" stroke="#f4a460" stroke-dasharray="3 3"/>
<path d="M1427.5 106V236" stroke="#f4a460" stroke-dasharray="3 3"/>
<path d="M1435.5 106V232" stroke="#f4a460" stroke-dasharray="3 3"/>
<path d="M1443.5 104V225" stroke="#f4a460" stroke-dasharray="3 3"/>
<path d="M1451.5 104V225" stroke="#f4a460" stroke-dasharray="3 3"/>
<path d="M1459.5 104V225" stroke="#f4a460" stroke-dasharray="3 3"/>
<path d="M1467.5 97V225" stroke="#f4a460" stroke-dasharray="3 3"/>
<path d="M1475.5 88V225" stroke="#f4a460" stroke-dasharray="3 3"/>
<path d="M1483.5 91V222" stroke="#f4a460" stroke-dasharray="3 3"/>
<path d="M1491.5 87V189" stroke="#f4a460" stroke-dasharray="3 3"/>
<path d="M1499.5 90V189" stroke="#f4a460" stroke-dasharray="3 3"/>
<path d="M1507.5 103V178" stroke="#f4a460" stroke-dasharray="3 3"/>
<path d="M1515.5 104V159" stroke="#f4a460" stroke-dasharray="3 3"/>
<path d="M1523.5 108V145" stroke="#f4a460" stroke-dasharray="3 3"/>
<path d="M1531.5 108V138" stroke="#f4a460" stroke-dasharray="3 3"/>
<path d="M1539.5 108V138" stroke="#f4a460" stroke-dasharray="3 3"/>
<path d="M1547.5 108V138" stroke="#f4a460" stroke-dasharray="3 3"/>
<path d="M1555.5 126V138" stroke="#f4a460" stroke-dasharray="3 3"/>
<path d="M1563.5 127V138" stroke="#f4a460" stroke-dasharray="3 3"/>
<path d="M1571.5 125V127" stroke="#d8bfd8" stroke-dasharray="3 3"/>
<path d="M1579.5 125V127" stroke="#d8bfd8" stroke-dasharray="3 3"/>
<path d="M1587.5 125V127" stroke="#d8bfd8" stroke-dasharray="3 3"/>
<path d="M1595.5 125V127" stroke="#d8bfd8" stroke-dasharray="3 3"/>
<path d="M1603.5 125V131" stroke="#d8bfd8" stroke-dasharray="3 3"/>
<path d="M1611.5 125V134" stroke="#d8bfd8" stroke-dasharray="3 3"/>
<path d="M1619.5 125V136" stroke="#d8bfd8" stroke-dasharray="3 3"/>
<path d="M1627.5 125V134" stroke="#d8bfd8" stroke-dasharray="3 3"/>
<path d="M1635.5 125V133" stroke="#d8bfd8" stroke-dasharray="3 3"/>
<path d="M1643.5 125V127" stroke="#d8bfd8" stroke-dasharray="3 3"/>
<path d="M1651.5 122V126" stroke="#d8bfd8" stroke-dasharray="3 3"/>
<path d="M1659.5 122V128" stroke="#d8bfd8" stroke-dasharray="3 3"/>
<path d="M1667.5 122V127" stroke="#d8bfd8" stroke-dasharray="3 3"/>
<path d="M1675.5 113V126" stroke="#d8bfd8" stroke-dasharray="3 3"/>
<path d="M1683.5 113V126" stroke="#d8bfd8" stroke-dasharray="3 3"/>
<path d="M1691.5 113V132" stroke="#d8bfd8" stroke-dasharray="3 3"/>
<path d="M1699.5 114V136" stroke="#d8bfd8" stroke-dasharray="3 3"/>
<path d="M1707.5 114V136" stroke="#d8bfd8" stroke-dasharray="3 3"/>
<path d="M1715.5 114V136" stroke="#d8bfd8" stroke-dasharray="3 3"/>
<path d="M1723.5 114V139" stroke="#d8bfd8" stroke-dasharray="3 3"/>
<path d="M1731.5 114V139" stroke="#d8bfd8" stroke-dasharray="3 3"/>
<path d="M1739.5 114V139" stroke="#d8bfd8" stroke-dasharray="3 3"/>
<path d="M1747.5 122V151" stroke="#d8bfd8" stroke-dasharray="3 3"/>
<path d="M1755.5 122V157" stroke="#d8bfd8" stroke-dasharray="3 3"/>
<path d="M1763.5 122V157" stroke="#d8bfd8" stroke-dasharray="3 3"/>
<path d="M1771.5 122V157" stroke="#d8bfd8" stroke-dasharray="3 3"/>
<path d="M1779.5 122V157" stroke="#d8bfd8" stroke-dasharray="3 3"/>
<path d="M1787.5 122V156" stroke="#d8bfd8" stroke-dasharray="3 3"/>
<path d="M1795.5 122V151" stroke="#d8bfd8" stroke-dasharray="3 3"/>
<path d="M1803.5 122V151" stroke="#d8bfd8" stroke-dasharray="3 3"/>
<path d="M3.5 582.5 L11.5 582.5 L19.5 580.5 L27.5 575.5 L35.5 571.5 L43.5 570.5 L51.5 576.5 L59.5 577.5 L67.5 581.5 L75.5 585.5 L83.5 585.5 L91.5 587.5 L99.5 588.5 L107.5 590.5 L115.5 592.5 L123.5 595.5 L131.5 597.5 L139.5 595.5 L147.5 590.5 L155.5 590.5 L163.5 587.5 L171.5 585.5 L179.5 585.5 L187.5 585.5 L195.5 585.5 L203.5 584.5 L211.5 594.5 L219.5 598.5 L227.5 601.5 L235.5 601.5 L243.5 616.5 L251.5 629.5 L259.5 629.5 L267.5 629.5 L275.5 636.5 L283.5 641.5 L291.5 641.5 L299.5 642.5 L307.5 639.5 L315.5 639.5 L323.5 636.5 L331.5 633.5 L339.5 632.5 L347.5 630.5 L355.5 628.5 L363.5 625.5 L371.5 617.5 L379.5 615.5 L387.5 615.5 L395.5 622.5 L403.5 623.5 L411.5 627.5 L419.5 627.5 L427.5 629.5 L435.5 629.5 L443.5 631.5 L451.5 636.5 L459.5 640.5 L467.5 644.5 L475.5 644.5 L483.5 644.5 L491.5 644.5 L499.5 644.5 L507.5 639.5 L515.5 639.5 L523.5 638.5 L531.5 636.5 L539.5 630.5 L547.5 618.5 L555.5 607.5 L563.5 603.5 L571.5 600.5 L579.5 587.5 L587.5 584.5 L595.5 574.5 L603.5 572.5 L611.5 564.5 L619.5 561.5 L627.5 550.5 L635.5 541.5 L643.5 541.5 L651.5 540.5 L659.5 534.5 L667.5 524.5 L675.5 511.5 L683.5 492.5 L691.5 490.5 L699.5 483.5 L707.5 480.5 L715.5 469.5 L723.5 467.5 L731.5 465.5 L739.5 446.5 L747.5 430.5 L755.5 427.5 L763.5 425.5 L771.5 422.5 L779.5 421.5 L787.5 420.5 L795.5 414.5 L803.5 414.5 L811.5 417.5 L819.5 419.5 L827.5 421.5 L835.5 416.5 L843.5 416.5 L851.5 417.5 L859.5 431.5 L867.5 431.5 L875.5 433.5 L883.5 440.5 L891.5 440.5 L899.5 440.5 L907.5 440.5 L915.5 440.5 L923.5 440.5 L931.5 432.5 L939.5 432.5 L947.5 430.5 L955.5 426.5 L963.5 425.5 L971.5 423.5 L979.5 418.5 L987.5 421.5 L995.5 423.5 L1003.5 423.5 L1011.5 423.5 L1019.5 423.5 L1027.5 423.5 L1035.5 427.5 L1043.5 424.5 L1051.5 414.5 L1059.5 410.5 L1067.5 410.5 L1075.5 398.5 L1083.5 392.5 L1091.5 385.5 L1099.5 359.5 L1107.5 343.5 L1115.5 322.5 L1123.5 311.5 L1131.5 308.5 L1139.5 302.5 L1147.5 285.5 L1155.5 285.5 L1163.5 263.5 L1171.5 253.5 L1179.5 246.5 L1187.5 242.5 L1195.5 242.5 L1203.5 242.5 L1211.5 241.5 L1219.5 238.5 L1227.5 230.5 L1235.5 226.5 L1243.5 226.5 L1251.5 226.5 L1259.5 226.5 L1267.5 226.5 L1275.5 225.5 L1283.5 201.5 L1291.5 198.5 L1299.5 173.5 L1307.5 153.5 L1315.5 146.5 L1323.5 142.5 L1331.5 137.5 L1339.5 133.5 L1347.5 132.5 L1355.5 126.5 L1363.5 116.5 L1371.5 115.5 L1379.5 115.5 L1387.5 114.5 L1395.5 119.5 L1403.5 119.5 L1411.5 119.5 L1419.5 119.5 L1427.5 105.5 L1435.5 105.5 L1443.5 103.5 L1451.5 103.5 L1459.5 103.5 L1467.5 96.5 L1475.5 88.5 L1483.5 91.5 L1491.5 87.5 L1499.5 89.5 L1507.5 102.5 L1515.5 104.5 L1523.5 107.5 L1531.5 107.5 L1539.5 107.5 L1547.5 107.5 L1555.5 126.5 L1563.5 127.5 L1571.5 127.5 L1579.5 127.5 L1587.5 127.5 L1595.5 127.5 L1603.5 130.5 L1611.5 133.5 L1619.5 135.5 L1627.5 134.5 L1635.5 133.5 L1643.5 127.5 L1651.5 125.5 L1659.5 127.5 L1667.5 126.5 L1675.5 125.5 L1683.5 126.5 L1691.5 131.5 L1699.5 136.5 L1707.5 136.5 L1715.5 136.5 L1723.5 138.5 L1731.5 138.5 L1739.5 138.5 L1747.5 150.5 L1755.5 157.5 L1763.5 157.5 L1771.5 157.5 L1779.5 157.5 L1787.5 155.5 L1795.5 150.5 L1803.5 150.5" stroke="#f4a460" stroke-dasharray="3 3"/>
<path d="M3.5 585.5 L11.5 585.5 L19.5 585.5 L27.5 585.5 L35.5 585.5 L43.5 585.5 L51.5 585.5 L59.5 585.5 L67.5 585.5 L75.5 585.5 L83.5 585.5 L91.5 585.5 L99.5 585.5 L107.5 585.5 L115.5 585.5 L123.5 585.5 L131.5 585.5 L139.5 585.5 L147.5 585.5 L155.5 585.5 L163.5 585.5 L171.5 585.5 L179.5 585.5 L187.5 585.5 L195.5 585.5 L203.5 585.5 L211.5 585.5 L219.5 588.5 L227.5 588.5 L235.5 589.5 L243.5 603.5 L251.5 612.5 L259.5 612.5 L267.5 612.5 L275.5 612.5 L283.5 612.5 L291.5 612.5 L299.5 612.5 L307.5 612.5 L315.5 612.5 L323.5 612.5 L331.5 612.5 L339.5 612.5 L347.5 612.5 L355.5 612.5 L363.5 612.5 L371.5 612.5 L379.5 612.5 L387.5 612.5 L395.5 612.5 L403.5 612.5 L411.5 612.5 L419.5 615.5 L427.5 617.5 L435.5 622.5 L443.5 623.5 L451.5 626.5 L459.5 629.5 L467.5 629.5 L475.5 629.5 L483.5 629.5 L491.5 629.5 L499.5 629.5 L507.5 629.5 L515.5 629.5 L523.5 629.5 L531.5 629.5 L539.5 628.5 L547.5 626.5 L555.5 616.5 L563.5 613.5 L571.5 611.5 L579.5 605.5 L587.5 603.5 L595.5 594.5 L603.5 591.5 L611.5 591.5 L619.5 591.5 L627.5 583.5 L635.5 576.5 L643.5 576.5 L651.5 576.5 L659.5 576.5 L667.5 566.5 L675.5 555.5 L683.5 542.5 L691.5 542.5 L699.5 542.5 L707.5 540.5 L715.5 540.5 L723.5 540.5 L731.5 540.5 L739.5 524.5 L747.5 518.5 L755.5 518.5 L763.5 518.5 L771.5 518.5 L779.5 517.5 L787.5 517.5 L795.5 517.5 L803.5 517.5 L811.5 517.5 L819.5 517.5 L827.5 517.5 L835.5 517.5 L843.5 517.5 L851.5 517.5 L859.5 517.5 L867.5 517.5 L875.5 517.5 L883.5 513.5 L891.5 500.5 L899.5 496.5 L907.5 495.5 L915.5 494.5 L923.5 481.5 L931.5 477.5 L939.5 477.5 L947.5 477.5 L955.5 462.5 L963.5 456.5 L971.5 451.5 L979.5 447.5 L987.5 447.5 L995.5 445.5 L1003.5 434.5 L1011.5 434.5 L1019.5 434.5 L1027.5 434.5 L1035.5 433.5 L1043.5 419.5 L1051.5 419.5 L1059.5 417.5 L1067.5 417.5 L1075.5 409.5 L1083.5 407.5 L1091.5 403.5 L1099.5 379.5 L1107.5 366.5 L1115.5 349.5 L1123.5 339.5 L1131.5 339.5 L1139.5 335.5 L1147.5 335.5 L1155.5 335.5 L1163.5 317.5 L1171.5 317.5 L1179.5 317.5 L1187.5 317.5 L1195.5 317.5 L1203.5 317.5 L1211.5 316.5 L1219.5 316.5 L1227.5 316.5 L1235.5 316.5 L1243.5 316.5 L1251.5 316.5 L1259.5 316.5 L1267.5 316.5 L1275.5 316.5 L1283.5 309.5 L1291.5 306.5 L1299.5 285.5 L1307.5 277.5 L1315.5 272.5 L1323.5 263.5 L1331.5 261.5 L1339.5 255.5 L1347.5 255.5 L1355.5 255.5 L1363.5 255.5 L1371.5 255.5 L1379.5 255.5 L1387.5 255.5 L1395.5 254.5 L1403.5 254.5 L1411.5 254.5 L1419.5 254.5 L1427.5 236.5 L1435.5 231.5 L1443.5 224.5 L1451.5 224.5 L1459.5 224.5 L1467.5 224.5 L1475.5 224.5 L1483.5 222.5 L1491.5 188.5 L1499.5 188.5 L1507.5 178.5 L1515.5 158.5 L1523.5 145.5 L1531.5 137.5 L1539.5 137.5 L1547.5 137.5 L1555.5 137.5 L1563.5 137.5 L1571.5 125.5 L1579.5 125.5 L1587.5 125.5 L1595.5 125.5 L1603.5 125.5 L1611.5 125.5 L1619.5 125.5 L1627.5 125.5 L1635.5 125.5 L1643.5 125.5 L1651.5 121.5 L1659.5 121.5 L1667.5 121.5 L1675.5 112.5 L1683.5 112.5 L1691.5 112.5 L1699.5 113.5 L1707.5 113.5 L1715.5 113.5 L1723.5 113.5 L1731.5 113.5 L1739.5 113.5 L1747.5 121.5 L1755.5 121.5 L1763.5 121.5 L1771.5 121.5 L1779.5 121.5 L1787.5 121.5 L1795.5 121.5 L1803.5 121.5" stroke="#d8bfd8" stroke-dasharray="3 3"/>
<path d="M3.5 600.5 L11.5 605.5 L19.5 605.5 L27.5 605.5 L35.5 617.5 L43.5 629.5 L51.5 629.5 L59.5 629.5 L67.5 643.5 L75.5 653.5 L83.5 653.5 L91.5 656.5 L99.5 648.5 L107.5 648.5 L115.5 643.5 L123.5 638.5 L131.5 634.5 L139.5 631.5 L147.5 628.5 L155.5 621.5 L163.5 605.5 L171.5 601.5 L179.5 602.5 L187.5 615.5 L195.5 617.5 L203.5 621.5 L211.5 621.5 L219.5 624.5 L227.5 624.5 L235.5 629.5 L243.5 638.5 L251.5 651.5 L259.5 655.5 L267.5 655.5 L275.5 655.5 L283.5 655.5 L291.5 655.5 L299.5 644.5 L307.5 644.5 L315.5 643.5 L323.5 639.5 L331.5 628.5 L339.5 610.5 L347.5 597.5 L355.5 592.5 L363.5 589.5 L371.5 569.5 L379.5 564.5 L387.5 554.5 L395.5 552.5 L403.5 537.5 L411.5 530.5 L419.5 518.5 L427.5 506.5 L435.5 506.5 L443.5 504.5 L451.5 493.5 L459.5 483.5 L467.5 472.5 L475.5 459.5 L483.5 458.5 L491.5 445.5 L499.5 442.5 L507.5 434.5 L515.5 434.5 L523.5 429.5 L531.5 407.5 L539.5 396.5 L547.5 396.5 L555.5 396.5 L563.5 396.5 L571.5 395.5 L579.5 395.5 L587.5 394.5 L595.5 394.5 L603.5 400.5 L611.5 404.5 L619.5 409.5 L627.5 412.5 L635.5 412.5 L643.5 420.5 L651.5 449.5 L659.5 449.5 L667.5 453.5 L675.5 463.5 L683.5 463.5 L691.5 463.5 L699.5 463.5 L707.5 463.5 L715.5 462.5 L723.5 447.5 L731.5 447.5 L739.5 443.5 L747.5 434.5 L755.5 433.5 L763.5 429.5 L771.5 420.5 L779.5 418.5 L787.5 412.5 L795.5 412.5 L803.5 412.5 L811.5 412.5 L819.5 412.5 L827.5 420.5 L835.5 413.5 L843.5 402.5 L851.5 398.5 L859.5 398.5 L867.5 386.5 L875.5 378.5 L883.5 369.5 L891.5 339.5 L899.5 325.5 L907.5 309.5 L915.5 299.5 L923.5 299.5 L931.5 292.5 L939.5 259.5 L947.5 259.5 L955.5 231.5 L963.5 211.5 L971.5 197.5 L979.5 190.5 L987.5 190.5 L995.5 190.5 L1003.5 189.5 L1011.5 189.5 L1019.5 177.5 L1027.5 177.5 L1035.5 177.5 L1043.5 177.5 L1051.5 177.5 L1059.5 177.5 L1067.5 177.5 L1075.5 169.5 L1083.5 166.5 L1091.5 146.5 L1099.5 134.5 L1107.5 134.5 L1115.5 134.5 L1123.5 123.5 L1131.5 115.5 L1139.5 113.5 L1147.5 102.5 L1155.5 94.5 L1163.5 92.5 L1171.5 92.5 L1179.5 91.5 L1187.5 100.5 L1195.5 100.5 L1203.5 100.5 L1211.5 101.5 L1219.5 86.5 L1227.5 86.5 L1235.5 86.5 L1243.5 86.5 L1251.5 86.5 L1259.5 83.5 L1267.5 74.5 L1275.5 82.5 L1283.5 84.5 L1291.5 90.5 L1299.5 105.5 L1307.5 108.5 L1315.5 115.5 L1323.5 115.5 L1331.5 115.5 L1339.5 115.5 L1347.5 140.5 L1355.5 141.5 L1363.5 141.5 L1371.5 141.5 L1379.5 141.5 L1387.5 141.5 L1395.5 148.5 L1403.5 154.5 L1411.5 158.5 L1419.5 155.5 L1427.5 150.5 L1435.5 135.5 L1443.5 128.5 L1451.5 126.5 L1459.5 124.5 L1467.5 122.5 L1475.5 122.5 L1483.5 128.5 L1491.5 136.5 L1499.5 136.5 L1507.5 136.5 L1515.5 141.5 L1523.5 141.5 L1531.5 141.5 L1539.5 157.5 L1547.5 170.5 L1555.5 170.5 L1563.5 170.5 L1571.5 170.5 L1579.5 166.5 L1587.5 156.5 L1595.5 156.5" stroke="#ff0000" />
<path d="M3.5 587.5 L11.5 591.5 L19.5 597.5 L27.5 598.5 L35.5 614.5 L43.5 629.5 L51.5 629.5 L59.5 629.5 L67.5 629.5 L75.5 629.5 L83.5 629.5 L91.5 629.5 L99.5 629.5 L107.5 629.5 L115.5 629.5 L123.5 629.5 L131.5 629.5 L139.5 629.5 L147.5 629.5 L155.5 629.5 L163.5 629.5 L171.5 629.5 L179.5 629.5 L187.5 629.5 L195.5 629.5 L203.5 633.5 L211.5 633.5 L219.5 633.5 L227.5 633.5 L235.5 633.5 L243.5 633.5 L251.5 629.5 L259.5 633.5 L267.5 633.5 L275.5 633.5 L283.5 633.5 L291.5 633.5 L299.5 633.5 L307.5 633.5 L315.5 633.5 L323.5 633.5 L331.5 632.5 L339.5 626.5 L347.5 618.5 L355.5 614.5 L363.5 612.5 L371.5 605.5 L379.5 604.5 L387.5 593.5 L395.5 592.5 L403.5 591.5 L411.5 591.5 L419.5 583.5 L427.5 576.5 L435.5 576.5 L443.5 576.5 L451.5 576.5 L459.5 566.5 L467.5 551.5 L475.5 526.5 L483.5 521.5 L491.5 520.5 L499.5 517.5 L507.5 504.5 L515.5 500.5 L523.5 500.5 L531.5 485.5 L539.5 464.5 L547.5 457.5 L555.5 453.5 L563.5 448.5 L571.5 447.5 L579.5 445.5 L587.5 434.5 L595.5 434.5 L603.5 434.5 L611.5 434.5 L619.5 433.5 L627.5 419.5 L635.5 419.5 L643.5 414.5 L651.5 414.5 L659.5 414.5 L667.5 414.5 L675.5 417.5 L683.5 417.5 L691.5 417.5 L699.5 417.5 L707.5 417.5 L715.5 417.5 L723.5 417.5 L731.5 417.5 L739.5 417.5 L747.5 417.5 L755.5 417.5 L763.5 417.5 L771.5 417.5 L779.5 424.5 L787.5 434.5 L795.5 434.5 L803.5 434.5 L811.5 434.5 L819.5 434.5 L827.5 434.5 L835.5 434.5 L843.5 426.5 L851.5 422.5 L859.5 422.5 L867.5 409.5 L875.5 407.5 L883.5 402.5 L891.5 378.5 L899.5 360.5 L907.5 335.5 L915.5 323.5 L923.5 317.5 L931.5 312.5 L939.5 312.5 L947.5 312.5 L955.5 295.5 L963.5 295.5 L971.5 295.5 L979.5 294.5 L987.5 294.5 L995.5 294.5 L1003.5 293.5 L1011.5 288.5 L1019.5 283.5 L1027.5 276.5 L1035.5 276.5 L1043.5 276.5 L1051.5 276.5 L1059.5 276.5 L1067.5 274.5 L1075.5 233.5 L1083.5 230.5 L1091.5 200.5 L1099.5 171.5 L1107.5 158.5 L1115.5 150.5 L1123.5 150.5 L1131.5 150.5 L1139.5 150.5 L1147.5 150.5 L1155.5 138.5 L1163.5 138.5 L1171.5 138.5 L1179.5 138.5 L1187.5 138.5 L1195.5 138.5 L1203.5 138.5 L1211.5 138.5 L1219.5 125.5 L1227.5 125.5 L1235.5 121.5 L1243.5 121.5 L1251.5 121.5 L1259.5 110.5 L1267.5 102.5 L1275.5 100.5 L1283.5 89.5 L1291.5 88.5 L1299.5 99.5 L1307.5 99.5 L1315.5 99.5 L1323.5 99.5 L1331.5 99.5 L1339.5 99.5 L1347.5 112.5 L1355.5 112.5 L1363.5 112.5 L1371.5 112.5 L1379.5 112.5 L1387.5 112.5 L1395.5 112.5 L1403.5 112.5 L1411.5 112.5 L1419.5 112.5 L1427.5 115.5 L1435.5 119.5 L1443.5 122.5 L1451.5 129.5 L1459.5 129.5 L1467.5 129.5 L1475.5 129.5 L1483.5 135.5 L1491.5 136.5 L1499.5 136.5 L1507.5 136.5 L1515.5 136.5 L1523.5 136.5 L1531.5 136.5 L1539.5 144.5 L1547.5 144.5 L1555.5 144.5 L1563.5 144.5 L1571.5 144.5 L1579.5 144.5 L1587.5 144.5 L1595.5 144.5" stroke="#0000ff" />
<path d="M3.5 639.5 L11.5 636.5 L19.5 639.5 L27.5 670.5 L35.5 674.5 L43.5 680.5 L51.5 675.5 L59.5 643.5 L67.5 645.5 L75.5 633.5 L83.5 633.5 L91.5 620.5 L99.5 604.5 L107.5 609.5 L115.5 594.5 L123.5 577.5 L131.5 566.5 L139.5 548.5 L147.5 543.5 L155.5 534.5 L163.5 538.5 L171.5 522.5 L179.5 499.5 L187.5 502.5 L195.5 501.5 L203.5 522.5 L211.5 480.5 L219.5 485.5 L227.5 470.5 L235.5 472.5 L243.5 466.5 L251.5 451.5 L259.5 436.5 L267.5 405.5 L275.5 421.5 L283.5 415.5 L291.5 394.5 L299.5 412.5 L307.5 433.5 L315.5 401.5 L323.5 359.5 L331.5 363.5 L339.5 366.5 L347.5 361.5 L355.5 359.5 L363.5 368.5 L371.5 419.5 L379.5 440.5 L387.5 423.5 L395.5 450.5 L403.5 457.5 L411.5 471.5 L419.5 470.5 L427.5 463.5 L435.5 474.5 L443.5 465.5 L451.5 446.5 L459.5 462.5 L467.5 486.5 L475.5 485.5 L483.5 478.5 L491.5 448.5 L499.5 450.5 L507.5 439.5 L515.5 416.5 L523.5 419.5 L531.5 395.5 L539.5 380.5 L547.5 402.5 L555.5 429.5 L563.5 425.5 L571.5 426.5 L579.5 425.5 L587.5 421.5 L595.5 422.5 L603.5 417.5 L611.5 397.5 L619.5 400.5 L627.5 386.5 L635.5 362.5 L643.5 358.5 L651.5 400.5 L659.5 329.5 L667.5 327.5 L675.5 318.5 L683.5 273.5 L691.5 246.5 L699.5 213.5 L707.5 188.5 L715.5 203.5 L723.5 183.5 L731.5 196.5 L739.5 192.5 L747.5 158.5 L755.5 161.5 L763.5 165.5 L771.5 185.5 L779.5 180.5 L787.5 171.5 L795.5 159.5 L803.5 183.5 L811.5 211.5 L819.5 193.5 L827.5 172.5 L835.5 187.5 L843.5 176.5 L851.5 161.5 L859.5 159.5 L867.5 132.5 L875.5 123.5 L883.5 83.5 L891.5 66.5 L899.5 86.5 L907.5 90.5 L915.5 89.5 L923.5 79.5 L931.5 75.5 L939.5 87.5 L947.5 93.5 L955.5 82.5 L963.5 105.5 L971.5 97.5 L979.5 125.5 L987.5 87.5 L995.5 84.5 L1003.5 80.5 L1011.5 46.5 L1019.5 57.5 L1027.5 69.5 L1035.5 95.5 L1043.5 108.5 L1051.5 82.5 L1059.5 86.5 L1067.5 109.5 L1075.5 118.5 L1083.5 124.5 L1091.5 157.5 L1099.5 121.5 L1107.5 106.5 L1115.5 114.5 L1123.5 127.5 L1131.5 149.5 L1139.5 182.5 L1147.5 178.5 L1155.5 154.5 L1163.5 159.5 L1171.5 168.5 L1179.5 134.5 L1187.5 151.5 L1195.5 158.5 L1203.5 136.5 L1211.5 126.5 L1219.5 119.5 L1227.5 103.5 L1235.5 98.5 L1243.5 105.5 L1251.5 98.5 L1259.5 119.5 L1267.5 154.5 L1275.5 153.5 L1283.5 150.5 L1291.5 143.5 L1299.5 143.5 L1307.5 170.5 L1315.5 160.5 L1323.5 156.5 L1331.5 183.5 L1339.5 172.5 L1347.5 172.5 L1355.5 163.5 L1363.5 153.5 L1371.5 134.5 L1379.5 109.5 L1387.5 120.5" stroke="#00ff00" />
</g>
</g>
<g clip-path="url(#cs)" shape-rendering="crispEdges" fill="none" stroke-width="1">
<path d="M3.0 799.5 L12.5 800.0 L30.0 803.2 L50.0 809.5 L70.0 815.0 L90.0 820.0 L110.0 820.5 L130.0 815.8 L150.0 808.0 L170.0 800.5 L185.0 797.0 L205.0 796.8 L220.0 798.8 L232.5 802.0 L250.0 807.0 L270.0 812.0 L282.5 812.5 L290.0 813.2 L302.5 813.2 L315.0 810.5 L335.0 802.5 L355.0 794.5 L370.0 786.2 L385.0 779.5 L405.0 770.0 L420.0 764.5 L440.0 758.0 L460.0 754.0 L480.0 750.5 L500.0 745.8 L520.0 743.2 L540.0 741.5 L560.0 740.2 L577.5 741.2 L592.5 744.5 L607.5 750.0 L620.0 756.2 L632.5 765.8 L645.0 776.2 L660.0 785.5 L675.0 792.5 L690.0 798.8 L705.0 802.5 L720.0 803.5 L732.5 803.2 L745.0 800.0 L757.5 797.0 L770.0 792.5 L782.5 790.0 L800.0 788.0 L820.0 787.5 L842.5 787.0 L855.0 784.5 L867.5 783.2 L880.0 779.5 L895.0 773.0 L910.0 764.5 L925.0 755.0 L940.0 743.8 L955.0 732.5 L960.0 730.5 L972.5 725.0 L982.5 722.0 L992.5 721.5 L1007.5 721.5 L1017.5 723.8 L1032.5 729.2 L1047.5 735.0 L1060.0 740.8 L1075.0 746.2 L1090.0 748.8 L1110.0 748.5 L1122.5 746.2 L1135.0 743.8 L1145.0 742.5 L1165.0 742.5 L1177.5 745.8 L1195.0 750.0 L1207.5 754.2 L1220.0 758.2 L1232.5 760.5 L1245.0 763.0 L1260.0 766.2 L1272.5 768.2 L1285.0 771.8 L1300.0 777.5 L1315.0 784.5 L1335.0 791.2 L1350.0 797.0 L1365.0 802.5 L1380.0 807.5 L1390.0 809.5 L1402.5 812.0 L1412.5 813.5 L1422.5 813.2 L1440.0 810.5 L1455.0 805.5 L1470.0 801.2 L1480.0 799.5 L1490.0 799.0 L1500.0 798.2 L1512.5 799.5 L1525.0 801.5 L1540.0 805.5 L1550.0 807.0 L1560.0 809.2 L1572.5 810.5 L1587.5 810.5 L1595.0 809.2" stroke="#ff0000"/>
<path d="M3.0 803.2 L12.5 807.0 L25.0 810.8 L42.5 818.8 L60.0 822.5 L72.5 824.5 L82.5 824.5 L91.2 820.0 L100.0 815.8 L122.5 806.2 L140.0 798.2 L150.0 794.5 L162.5 791.5 L171.2 791.5 L185.0 797.5 L202.5 805.5 L212.5 806.5 L222.5 806.5 L228.8 807.5 L242.5 813.8 L258.8 818.2 L275.0 813.8 L297.5 807.0 L310.0 800.5 L317.5 798.8 L337.5 787.0 L360.0 773.8 L370.0 770.5 L387.5 762.5 L400.0 757.5 L405.0 757.2 L410.0 758.2 L425.0 754.2 L435.0 752.0 L447.5 751.5 L465.0 748.0 L475.0 743.2 L480.0 742.5 L490.0 741.5 L498.8 739.0 L507.5 740.0 L515.0 743.2 L523.8 744.0 L531.2 740.0 L542.5 738.5 L560.0 738.5 L568.8 740.8 L587.5 756.2 L605.0 770.0 L620.0 783.8 L635.0 791.2 L650.0 799.0 L665.0 799.5 L677.5 805.0 L691.2 808.2 L705.0 804.5 L720.0 799.5 L735.0 793.2 L747.5 785.5 L755.0 784.2 L767.5 785.8 L782.5 787.5 L797.5 789.2 L812.5 789.2 L822.5 786.8 L832.5 785.0 L842.5 780.0 L851.2 777.2 L858.8 779.2 L872.5 770.8 L882.5 766.8 L900.0 750.0 L915.0 733.0 L935.0 723.5 L947.5 721.2 L960.0 717.0 L971.2 717.0 L982.5 722.0 L995.0 726.2 L1005.0 727.5 L1011.2 730.5 L1020.0 738.8 L1027.5 743.0 L1037.5 745.5 L1047.5 749.2 L1060.0 751.5 L1067.5 753.2 L1075.0 751.5 L1083.8 750.0 L1095.0 742.5 L1102.5 740.0 L1110.0 739.2 L1120.0 741.2 L1140.0 741.5 L1155.0 747.0 L1163.8 748.8 L1172.5 753.0 L1181.2 757.0 L1187.5 762.5 L1200.0 764.5 L1211.2 764.5 L1220.0 762.5 L1230.0 762.5 L1236.2 763.8 L1251.2 772.0 L1263.8 773.8 L1271.2 776.2 L1282.5 783.8 L1292.5 788.8 L1300.0 794.5 L1307.5 796.2 L1320.0 796.5 L1332.5 799.0 L1340.0 802.5 L1347.5 808.0 L1356.2 813.2 L1365.0 814.5 L1380.0 816.2 L1390.0 813.8 L1407.5 813.0 L1422.5 807.0 L1440.0 799.2 L1452.5 795.8 L1460.0 793.2 L1467.5 793.8 L1480.0 798.8 L1490.0 802.0 L1505.0 803.8 L1515.0 807.0 L1520.0 808.0 L1532.5 808.5 L1540.0 812.5 L1545.0 813.5 L1563.8 813.5 L1572.5 811.2 L1580.0 807.5 L1587.5 803.2 L1595.0 800.0" stroke="#0000ff"/>
</g>
<g fill="none" stroke-linecap="butt" shape-rendering="crispEdges">
<path d="M1219 36.5H1857" stroke="#3f48cc" stroke-width="3"/>
<path d="M1188 133.5H1857" stroke="#ed1c24" stroke-width="3"/>
<path d="M1190.5 134.5 L1190.5 133.5 C1187.5 -11.7 1193.8 -2.9 1685.4 264.9" stroke="#ed1c24" stroke-width="3.1"/>
<path d="M1539 209.5H1855" stroke="#ff00ff" stroke-width="3"/>
<path d="M1540 210.5 L1641.3 60.8" stroke="#ff00ff" stroke-width="3.1"/>
</g>
<g fill="none" stroke="#000" shape-rendering="crispEdges">
<path d="M2.5 709V2.5H1856.5V709"/>
<path d="M2 708.5H1857"/>
<path d="M2.5 831V710.5H1856.5V831"/>
<path d="M2 830.5H1858"/>
</g>
<g stroke="#000" shape-rendering="crispEdges">
<path d="M1857 52.5H1859"/>
<path d="M1857 101.5H1859"/>
<path d="M1857 150.5H1859"/>
<path d="M1857 199.5H1859"/>
<path d="M1857 248.5H1859"/>
<path d="M1857 297.5H1859"/>
<path d="M1857 346.5H1859"/>
<path d="M1857 395.5H1859"/>
<path d="M1857 444.5H1859"/>
<path d="M1857 493.5H1859"/>
<path d="M1857 542.5H1859"/>
<path d="M1857 591.5H1859"/>
<path d="M1857 640.5H1859"/>
<path d="M1857 689.5H1859"/>
<path d="M1857 799.5H1859"/><path d="M1857 712.5H1858"/>
<path d="M3.5 831V834"/>
<path d="M99.5 831V834"/>
<path d="M195.5 831V834"/>
<path d="M291.5 831V834"/>
<path d="M387.5 831V834"/>
<path d="M483.5 831V834"/>
<path d="M579.5 831V834"/>
<path d="M675.5 831V834"/>
<path d="M771.5 831V834"/>
<path d="M867.5 831V834"/>
<path d="M963.5 831V834"/>
<path d="M1059.5 831V834"/>
<path d="M1155.5 831V834"/>
<path d="M1251.5 831V834"/>
<path d="M1347.5 831V834"/>
<path d="M1443.5 831V834"/>
<path d="M1539.5 831V834"/>
</g>
<g font-size="12" fill="#000">
<text x="1864" y="57" textLength="44.5" lengthAdjust="spacingAndGlyphs">114.565</text>
<text x="1864" y="106" textLength="44.5" lengthAdjust="spacingAndGlyphs">114.145</text>
<text x="1864" y="155" textLength="44.5" lengthAdjust="spacingAndGlyphs">113.725</text>
<text x="1864" y="204" textLength="44.5" lengthAdjust="spacingAndGlyphs">113.305</text>
<text x="1864" y="253" textLength="44.5" lengthAdjust="spacingAndGlyphs">112.885</text>
<text x="1864" y="302" textLength="44.5" lengthAdjust="spacingAndGlyphs">112.470</text>
<text x="1864" y="351" textLength="44.5" lengthAdjust="spacingAndGlyphs">112.050</text>
<text x="1864" y="400" textLength="44.5" lengthAdjust="spacingAndGlyphs">111.630</text>
<text x="1864" y="449" textLength="44.5" lengthAdjust="spacingAndGlyphs">111.210</text>
<text x="1864" y="498" textLength="44.5" lengthAdjust="spacingAndGlyphs">110.790</text>
<text x="1864" y="547" textLength="44.5" lengthAdjust="spacingAndGlyphs">110.375</text>
<text x="1864" y="596" textLength="44.5" lengthAdjust="spacingAndGlyphs">109.955</text>
<text x="1864" y="645" textLength="44.5" lengthAdjust="spacingAndGlyphs">109.535</text>
<text x="1864" y="694" textLength="44.5" lengthAdjust="spacingAndGlyphs">109.115</text>
<text x="1860.5" y="724" textLength="38" lengthAdjust="spacingAndGlyphs">0.5953</text>
<text x="1860.5" y="804" textLength="24" lengthAdjust="spacingAndGlyphs">0.00</text>
<text x="1860.5" y="827" textLength="41.5" lengthAdjust="spacingAndGlyphs">-0.2073</text>
<text x="2.7" y="846" textLength="69" lengthAdjust="spacingAndGlyphs">14 Sep 2021</text>
<text x="98.7" y="846" textLength="73.5" lengthAdjust="spacingAndGlyphs">16 Sep 16:00</text>
<text x="194.7" y="846" textLength="73.5" lengthAdjust="spacingAndGlyphs">20 Sep 16:00</text>
<text x="290.7" y="846" textLength="73.5" lengthAdjust="spacingAndGlyphs">22 Sep 16:00</text>
<text x="386.7" y="846" textLength="73.5" lengthAdjust="spacingAndGlyphs">24 Sep 16:00</text>
<text x="482.7" y="846" textLength="73.5" lengthAdjust="spacingAndGlyphs">28 Sep 16:00</text>
<text x="578.7" y="846" textLength="73.5" lengthAdjust="spacingAndGlyphs">30 Sep 16:00</text>
<text x="674.7" y="846" textLength="66" lengthAdjust="spacingAndGlyphs">4 Oct 16:00</text>
<text x="770.7" y="846" textLength="66" lengthAdjust="spacingAndGlyphs">6 Oct 16:00</text>
<text x="866.7" y="846" textLength="66" lengthAdjust="spacingAndGlyphs">8 Oct 16:00</text>
<text x="962.7" y="846" textLength="73.5" lengthAdjust="spacingAndGlyphs">12 Oct 16:00</text>
<text x="1058.7" y="846" textLength="73.5" lengthAdjust="spacingAndGlyphs">14 Oct 16:00</text>
<text x="1154.7" y="846" textLength="73.5" lengthAdjust="spacingAndGlyphs">18 Oct 16:00</text>
<text x="1250.7" y="846" textLength="73.5" lengthAdjust="spacingAndGlyphs">20 Oct 16:00</text>
<text x="1346.7" y="846" textLength="73.5" lengthAdjust="spacingAndGlyphs">22 Oct 16:00</text>
<text x="1442.7" y="846" textLength="73.5" lengthAdjust="spacingAndGlyphs">26 Oct 16:00</text>
<text x="1538.7" y="846" textLength="73.5" lengthAdjust="spacingAndGlyphs">28 Oct 16:00</text>
<text x="21.5" y="17" textLength="60.5" lengthAdjust="spacingAndGlyphs">USDJPY,H4</text>
<text x="91.5" y="17" textLength="44.5" lengthAdjust="spacingAndGlyphs">114.079</text>
<text x="141.5" y="17" textLength="44.5" lengthAdjust="spacingAndGlyphs">114.080</text>
<text x="191.5" y="17" textLength="44.5" lengthAdjust="spacingAndGlyphs">113.867</text>
<text x="241" y="17" textLength="44.5" lengthAdjust="spacingAndGlyphs">113.985</text>
<text x="7" y="726" textLength="85" lengthAdjust="spacingAndGlyphs">MACD(12,26,9)</text>
<text x="96.2" y="726" textLength="42.3" lengthAdjust="spacingAndGlyphs">-0.0055</text>
<text x="143.2" y="726" textLength="42.3" lengthAdjust="spacingAndGlyphs">-0.0679</text>
</g>
<rect x="1858" y="113" width="56" height="14" fill="#000" shape-rendering="crispEdges"/>
<text x="1864" y="125" font-size="12" fill="#fff" textLength="44.5" lengthAdjust="spacingAndGlyphs">113.985</text>
<path d="M1723.20 41.00H1717.65C1717.10 43.80 1714.40 46.30 1710.00 47.10V50.90H1716.90V75.65H1723.20Z" fill="#3f48cc"/>
<path d="M1751.20 41.00H1745.65C1745.10 43.80 1742.40 46.30 1738.00 47.10V50.90H1744.90V75.65H1751.20Z" fill="#3f48cc"/>
<text transform="matrix(0.42752 0 0 0.50510 1762.253 75.650)" font-size="100" font-weight="bold" fill="#3f48cc">4</text>
<circle cx="1793.40" cy="72.70" r="3.6" fill="#3f48cc"/>
<text transform="matrix(0.46545 0 0 0.50918 1800.395 75.753)" font-size="100" font-weight="bold" fill="#3f48cc">6</text>
<text transform="matrix(0.45626 0 0 0.50918 1828.418 75.753)" font-size="100" font-weight="bold" fill="#3f48cc">9</text>
<path d="M1724.00 136.00H1718.15C1717.60 138.80 1714.90 141.30 1710.50 142.10V145.90H1717.40V170.70H1724.00Z" fill="#ed1c24"/>
<path d="M1752.00 136.00H1746.15C1745.60 138.80 1742.90 141.30 1738.50 142.10V145.90H1745.40V170.70H1752.00Z" fill="#ed1c24"/>
<text transform="matrix(0.43857 0 0 0.50530 1762.994 170.683)" font-size="100" font-weight="bold" fill="#ed1c24">3</text>
<circle cx="1794.30" cy="167.80" r="3.6" fill="#ed1c24"/>
<text transform="matrix(0.45173 0 0 0.50776 1801.266 170.754)" font-size="100" font-weight="bold" fill="#ed1c24">8</text>
<text transform="matrix(0.44971 0 0 0.50776 1829.273 170.754)" font-size="100" font-weight="bold" fill="#ed1c24">8</text>
<path d="M1725.20 217.10H1719.35C1718.80 219.90 1716.10 222.40 1711.70 223.20V227.00H1718.60V251.70H1725.20Z" fill="#ff00ff"/>
<path d="M1753.20 217.10H1747.35C1746.80 219.90 1744.10 222.40 1739.70 223.20V227.00H1746.60V251.70H1753.20Z" fill="#ff00ff"/>
<text transform="matrix(0.44461 0 0 0.50460 1763.980 251.533)" font-size="100" font-weight="bold" fill="#ff00ff">3</text>
<circle cx="1795.50" cy="248.80" r="3.6" fill="#ff00ff"/>
<text transform="matrix(0.45280 0 0 0.50699 1802.430 251.700)" font-size="100" font-weight="bold" fill="#ff00ff">2</text>
<text transform="matrix(0.44015 0 0 0.50161 1830.746 251.610)" font-size="100" font-weight="bold" fill="#ff00ff">5</text>
</svg></body></html>
